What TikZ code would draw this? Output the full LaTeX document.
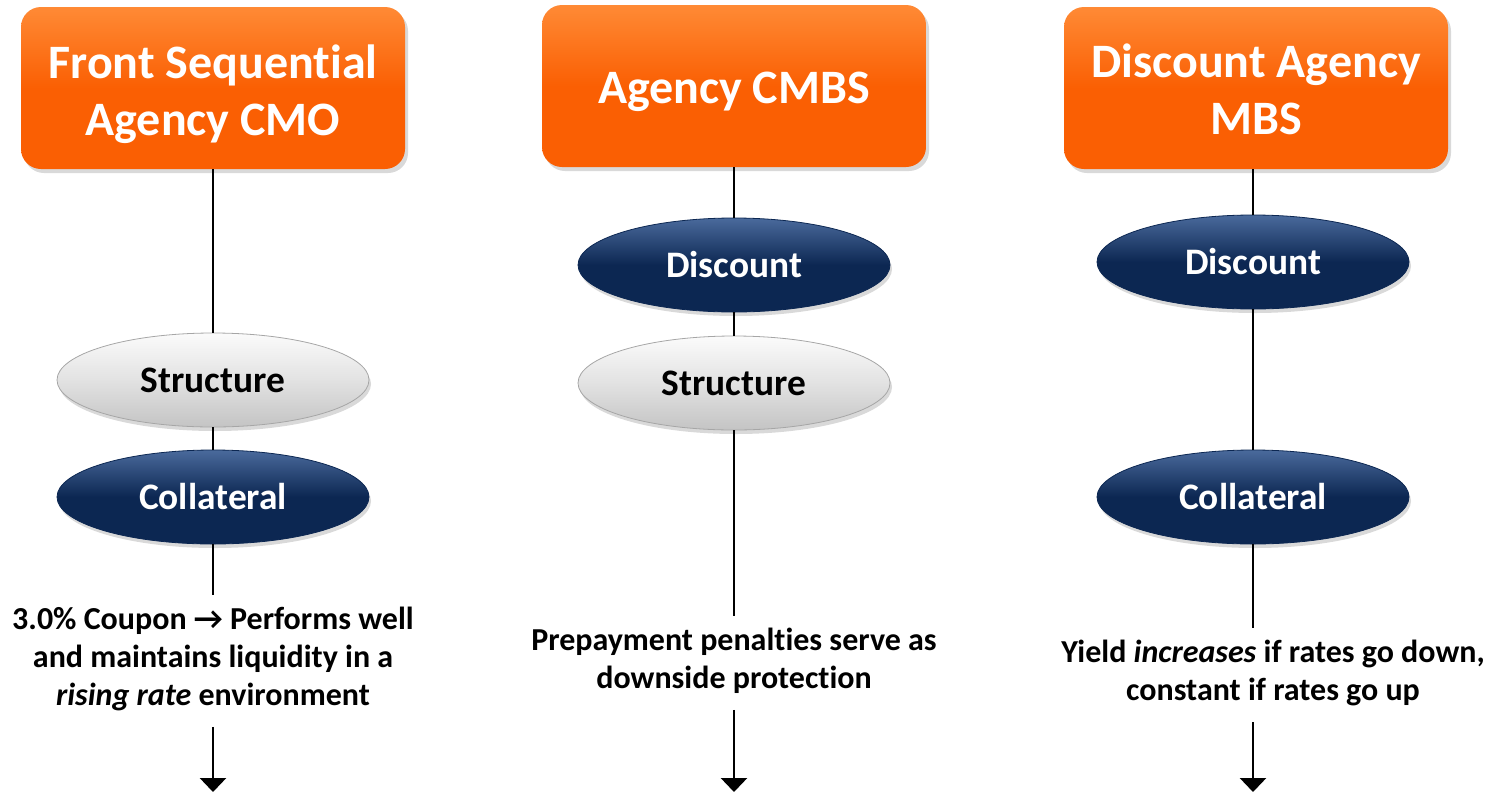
\documentclass[tikz,border=0pt]{standalone}
\usepackage{fontspec}
\setmainfont{Carlito}[Ligatures=NoCommon]
\usetikzlibrary{positioning, arrows.meta, shapes.geometric, shadows}

\definecolor{boxorange}{HTML}{FA5F03}
\definecolor{boxlight}{HTML}{FF8A35}
\definecolor{ovalnavy}{HTML}{0C2752}
\definecolor{ovaltop}{HTML}{4A6A9C}
\definecolor{greytop}{HTML}{FBFBFB}
\definecolor{greymid}{HTML}{E2E2E2}
\definecolor{greybot}{HTML}{C4C4C4}

\begin{document}
\begin{tikzpicture}[x=0.5pt, y=-0.5pt]
\tikzset{
    every node/.style={align=center},
    topbox/.style={rectangle, rounded corners=10pt, minimum width=192pt, minimum height=81pt,
        top color=boxlight, bottom color=boxorange, middle color=boxorange,
        drop shadow={opacity=0.3, shadow xshift=1.5pt, shadow yshift=-2pt}},
    boxtitle/.style={inner sep=0pt, yshift=-3pt, text=white,
        font=\bfseries\fontsize{24}{28.5}\selectfont},
    oval/.style={ellipse, inner sep=0pt, minimum width=156pt, minimum height=47pt,
        font=\bfseries\fontsize{18.7}{22}\selectfont,
        drop shadow={opacity=0.3, shadow xshift=1pt, shadow yshift=-2pt}},
    navyoval/.style={oval, top color=ovaltop, bottom color=ovalnavy, middle color=ovalnavy,
        draw=ovalnavy, text=white},
    greyoval/.style={oval, top color=greytop, bottom color=greybot, middle color=greymid,
        draw=gray!70},
    note/.style={inner sep=0pt, font=\bfseries\fontsize{16}{18.8}\selectfont},
    link/.style={line width=1.4pt},
    flow/.style={line width=1.4pt, -{Triangle[width=13pt, length=7pt]}}
}
\useasboundingbox (0,0) rectangle (1503,793);

\node[topbox] (cmo) at (213,88) {};
\node[boxtitle] (cmotitle) at (cmo) {Front Sequential\\Agency CMO};
\node[greyoval] (cmostr) at (213,380) {Structure};
\node[navyoval] (cmocol) at (213,497) {Collateral};
\node[note] (cmonote) at (213,659) {3.0\% Coupon → Performs well\\and maintains liquidity in a\\\textit{rising rate} environment};
\coordinate (cmoend) at (213,792);

\node[topbox] (cmbs) at (734,86) {};
\node[boxtitle] (cmbstitle) at (cmbs) {Agency CMBS};
\node[navyoval] (cmbsdisc) at (734,265) {Discount};
\node[greyoval] (cmbsstr) at (734,383) {Structure};
\node[note] (cmbsnote) at (734,661) {Prepayment penalties serve as\\downside protection};
\coordinate (cmbsend) at (734,792);

\node[topbox] (mbs) at (1256,88) {};
\node[boxtitle, yshift=2.5pt] (mbstitle) at (mbs) {Discount Agency\\MBS};
\node[navyoval] (mbsdisc) at (1253,262) {Discount};
\node[navyoval] (mbscol) at (1253,497) {Collateral};
\node[note] (mbsnote) at (1273,673) {Yield \textit{increases} if rates go down,\\constant if rates go up};
\coordinate (mbsend) at (1253,792);

\draw[link] (cmo.south -| cmostr) -- (cmostr);
\draw[link] (cmostr) -- (cmocol);
\draw[link, shorten >=6pt] (cmocol) -- (cmonote.north -| cmocol);
\draw[flow, shorten <=8pt] (cmonote.south -| cmoend) -- (cmoend);

\draw[link] (cmbs) -- (cmbsdisc);
\draw[link] (cmbsdisc) -- (cmbsstr);
\draw[link, shorten >=6pt] (cmbsstr) -- (cmbsnote.north -| cmbsstr);
\draw[flow, shorten <=8pt] (cmbsnote.south -| cmbsend) -- (cmbsend);

\draw[link] (mbs.south -| mbsdisc) -- (mbsdisc);
\draw[link] (mbsdisc) -- (mbscol);
\draw[link, shorten >=6pt] (mbscol) -- (mbsnote.north -| mbscol);
\draw[flow, shorten <=8pt] (mbsnote.south -| mbsend) -- (mbsend);
\end{tikzpicture}
\end{document}
